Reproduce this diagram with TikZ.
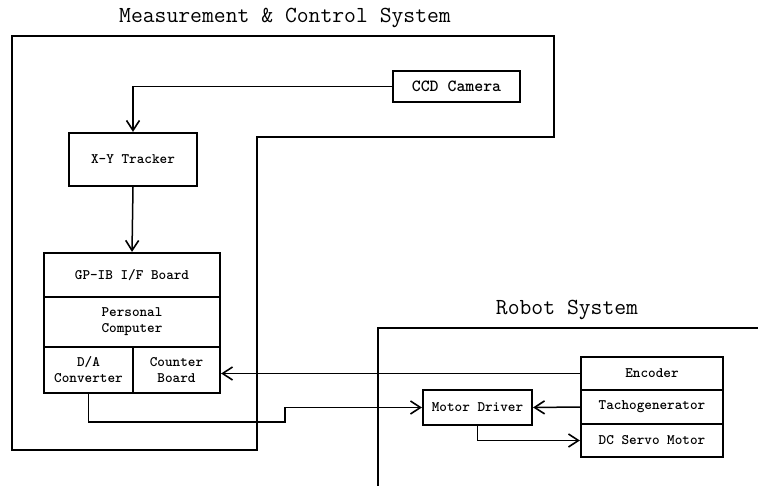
\documentclass[tikz,border=0pt]{standalone}
\usepackage{fontspec}
\newfontfamily\boxfont{lmmonolt10-bold}[Extension=.otf]
\usepackage{tikz}
\usetikzlibrary{arrows.meta}

\begin{document}
\begin{tikzpicture}[x=1pt, y=-1pt,
    frame/.style={line width=2.4pt},
    box/.style={draw, line width=2.2pt, inner sep=0pt, align=center,
        font=\boxfont\fontsize{14.5}{16}\selectfont},
    title/.style={font=\ttfamily\fontsize{23}{26}\selectfont},
    link/.style={line width=1.5pt, -{Straight Barb[length=10pt, width=13pt, line width=1.6pt]}}]
\useasboundingbox (0,0) rectangle (758,486);

% system borders
\draw[frame] (12,36) -- (554,36) -- (554,137) -- (257,137) -- (257,450) -- (12,450) -- cycle;
\draw[frame] (378,486) -- (378,328) -- (758,328);
\node[title] (mcs) at (285,18) {Measurement \& Control System};
\node[title] (rs) at (567,310) {Robot System};

% measurement side
\node[box, minimum width=127pt, minimum height=31pt,
    font=\boxfont\fontsize{17}{19}\selectfont] (ccd) at (456.5,86.5) {CCD Camera};
\node[box, minimum width=128pt, minimum height=53pt] (xy) at (133,159.5) {X-Y Tracker};
\node[box, minimum width=176pt, minimum height=44pt] (gpib) at (132,275) {GP-IB I/F Board};
\node[box, minimum width=176pt, minimum height=50pt] (pc) at (132,322) {Personal\\Computer};
\node[box, minimum width=89pt, minimum height=46pt] (da) at (88.5,370) {D/A\\Converter};
\node[box, minimum width=87pt, minimum height=46pt] (cnt) at (176.5,370) {Counter\\Board};

% robot side: motor stack
\foreach \name/\y/\txt in {enc/373.5/Encoder, tacho/407/Tachogenerator, servo/440.5/DC Servo Motor} {
    \node[box, minimum width=142pt, minimum height=33.5pt] (\name) at (652,\y) {\txt};
}
\node[box, minimum width=109pt, minimum height=35pt] (driver) at (477.5,407.5) {Motor Driver};

% signal lines
\draw[link] (ccd.west) -| (xy.north);
\draw[link] (xy.south) -- (gpib.north);
\draw[link] (enc.west) -- (enc.west -| cnt.east);
\coordinate (jog) at (285,422);
\draw[link] (da.south) |- (jog) |- (driver.west);
\draw[link] (tacho.west) -- (driver.east);
\draw[link] (driver.south) |- (servo.west);
\end{tikzpicture}
\end{document}
